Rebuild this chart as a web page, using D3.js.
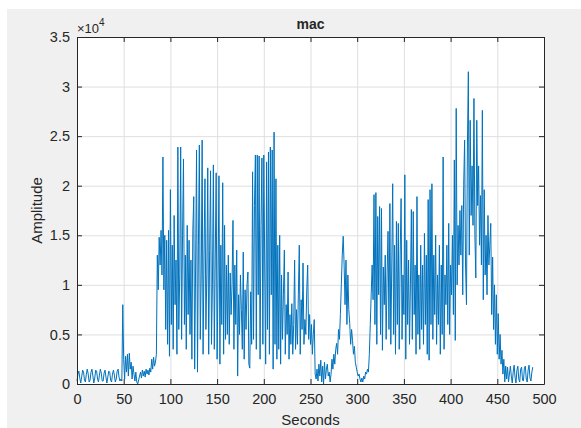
<!DOCTYPE html>
<html lang="en">
<head>
<meta charset="utf-8">
<title>mac</title>
<script src="https://d3js.org/d3.v7.min.js"></script>
<style>
  body { margin: 0; background: #fff; }
  text { font-family: "Liberation Sans", Arial, sans-serif; fill: #262626; }
</style>
</head>
<body>
<script>
// amplitude samples (units of 1e4), one per second starting at t = 0
var sampleStep = 1;
var amplitude = [
  0.03,0.10,0.13,0.06,0.01,0.07,0.14,0.12,0.04,0.02,
  0.10,0.15,0.10,0.02,0.04,0.12,0.15,0.08,0.01,0.06,
  0.14,0.13,0.05,0.02,0.09,0.15,0.11,0.03,0.03,0.11,
  0.14,0.07,0.01,0.07,0.13,0.12,0.04,0.02,0.10,0.14,
  0.09,0.02,0.05,0.13,0.15,0.07,0.03,0.05,0.03,0.80,
  0.25,0.05,0.28,0.12,0.30,0.08,0.31,0.15,0.22,0.05,
  0.18,0.10,0.03,0.12,0.02,0.00,0.04,0.08,0.12,0.06,
  0.14,0.08,0.13,0.07,0.15,0.10,0.14,0.09,0.16,0.12,
  0.25,0.15,0.27,0.18,0.22,0.30,1.30,0.95,1.48,1.20,
  1.55,1.10,2.29,0.95,1.50,0.55,1.45,0.40,1.55,0.28,
  1.96,0.60,1.40,0.35,1.70,0.80,1.25,0.30,2.39,0.55,
  1.10,2.39,0.45,1.50,2.27,0.60,1.30,0.35,1.60,0.70,
  1.45,0.50,1.25,0.25,1.55,1.89,0.15,1.20,2.36,0.12,
  1.40,2.41,0.45,1.10,2.46,0.30,1.30,2.07,0.55,1.10,
  2.18,0.30,1.35,2.15,0.40,1.00,2.21,0.35,1.25,2.13,
  0.25,1.05,2.10,0.20,1.40,0.60,2.03,0.30,1.60,0.45,
  1.20,0.50,1.30,0.40,1.12,0.70,1.00,1.65,0.35,1.20,
  0.60,1.35,0.08,0.90,0.50,1.10,0.75,0.35,1.33,0.25,
  0.95,0.55,1.00,1.13,0.20,0.16,0.93,0.40,2.14,0.45,
  1.80,2.31,0.35,2.31,0.90,2.30,0.25,1.60,2.28,0.40,
  2.31,1.20,0.20,2.24,0.55,2.34,0.30,2.39,0.90,2.36,
  0.15,2.54,0.40,2.07,0.25,1.40,0.35,1.50,0.20,1.10,
  0.45,0.90,1.35,0.30,0.80,0.50,1.13,0.25,0.70,0.40,
  0.81,0.30,0.60,1.25,0.35,0.75,0.40,0.90,1.40,0.30,
  0.85,0.55,1.22,0.40,0.65,0.50,0.95,1.20,0.45,0.70,
  0.40,0.60,0.30,0.50,0.65,0.10,0.05,0.15,0.03,0.20,
  0.08,0.24,0.02,0.18,0.00,0.22,0.05,0.15,0.20,0.08,
  0.12,0.02,0.10,0.25,0.15,0.30,0.20,0.35,0.41,0.30,
  0.55,0.45,0.70,1.00,1.30,1.49,1.20,0.80,1.25,0.60,
  1.10,0.75,0.61,0.40,0.55,0.44,0.30,0.38,0.22,0.17,
  0.12,0.08,0.10,0.05,0.02,0.06,0.02,0.08,0.05,0.12,
  0.10,0.15,0.12,0.30,0.60,0.91,1.20,0.85,1.91,0.60,
  1.93,0.40,1.69,0.90,1.79,0.50,1.77,0.34,1.18,0.80,
  1.30,0.45,1.10,1.54,0.55,1.82,0.40,1.20,2.02,0.50,
  1.40,0.30,1.64,0.60,1.62,0.35,1.30,1.87,0.45,1.10,
  0.70,2.11,0.25,1.45,0.60,1.25,0.40,1.00,1.76,0.45,
  1.74,0.70,1.20,0.30,1.89,0.50,1.10,0.35,1.40,0.55,
  1.20,0.40,1.52,0.60,1.30,0.30,1.86,0.24,1.96,0.60,
  2.02,0.45,1.30,0.70,1.50,0.40,1.10,0.60,1.40,0.30,
  1.20,0.50,2.29,0.35,1.10,0.80,1.40,0.60,1.62,0.50,
  1.20,0.90,1.50,0.70,2.26,0.44,2.78,1.00,1.60,1.20,
  1.75,1.30,1.80,0.90,2.00,2.46,1.20,0.80,2.40,3.15,
  1.30,2.66,1.70,2.20,1.60,2.88,1.50,1.07,2.66,1.80,
  2.20,1.40,1.90,1.20,2.76,0.85,1.96,1.10,1.50,0.90,
  1.70,1.20,1.40,1.62,0.70,1.28,0.55,1.00,0.40,0.90,
  0.30,0.71,0.25,0.50,0.20,0.34,0.10,0.25,0.02,0.18,
  0.05,0.17,0.02,0.10,0.18,0.08,0.01,0.12,0.19,0.07,
  0.01,0.14,0.18,0.05,0.02,0.15,0.17,0.04,0.03,0.16,
  0.18,0.05,0.02,0.14,0.19,0.06,0.03,0.12,0.17
];

var xTicks = [0, 50, 100, 150, 200, 250, 300, 350, 400, 450, 500];
var yTicks = [0, 0.5, 1, 1.5, 2, 2.5, 3, 3.5];
var titleText = "mac";
var xLabel = "Seconds";
var yLabel = "Amplitude";

var W = 581, H = 428;
var box = {left: 77, right: 544, top: 37, bottom: 384};

var svg = d3.select("body").append("svg")
    .attr("width", W)
    .attr("height", H);

// figure background
svg.append("rect")
    .attr("x", 7).attr("y", 9)
    .attr("width", W - 7).attr("height", H - 9)
    .attr("fill", "#f0f0f0");

svg.append("rect")
    .attr("x", box.left).attr("y", box.top)
    .attr("width", box.right - box.left).attr("height", box.bottom - box.top)
    .attr("fill", "#fff");

var x = d3.scaleLinear().domain([0, 500]).range([box.left, box.right]);
var y = d3.scaleLinear().domain([0, 3.5]).range([box.bottom, box.top]);

// grid
svg.append("g")
    .attr("transform", "translate(0," + box.bottom + ")")
    .call(d3.axisBottom(x).tickValues(xTicks).tickSize(-(box.bottom - box.top)).tickFormat(""))
    .call(g => g.select(".domain").remove())
    .call(g => g.selectAll("line").attr("stroke", "#dfdfdf"));
svg.append("g")
    .attr("transform", "translate(" + box.left + ",0)")
    .call(d3.axisLeft(y).tickValues(yTicks).tickSize(-(box.right - box.left)).tickFormat(""))
    .call(g => g.select(".domain").remove())
    .call(g => g.selectAll("line").attr("stroke", "#dfdfdf"));

// signal
var line = d3.line()
    .x((d, i) => x(i * sampleStep))
    .y(d => y(d));

svg.append("path")
    .datum(amplitude)
    .attr("fill", "none")
    .attr("stroke", "#0072bd")
    .attr("stroke-width", 1)
    .attr("stroke-linejoin", "round")
    .attr("d", line);

// axes with inward ticks
function styleAxis(g) {
    g.select(".domain").attr("stroke", "#262626");
    g.selectAll(".tick line").attr("stroke", "#262626");
    g.selectAll(".tick text")
        .style("font-family", "'Liberation Sans', Arial, sans-serif")
        .style("font-size", "14.5px")
        .attr("fill", "#262626");
}

svg.append("g")
    .attr("transform", "translate(0," + box.bottom + ")")
    .call(d3.axisBottom(x).tickValues(xTicks).tickSize(-5).tickSizeOuter(0).tickPadding(10).tickFormat(d3.format("~g")))
    .call(styleAxis);
svg.append("g")
    .attr("transform", "translate(0," + box.top + ")")
    .call(d3.axisTop(x).tickValues(xTicks).tickSize(-5).tickSizeOuter(0).tickFormat(""))
    .call(styleAxis);
svg.append("g")
    .attr("transform", "translate(" + box.left + ",0)")
    .call(d3.axisLeft(y).tickValues(yTicks).tickSize(-5).tickSizeOuter(0).tickPadding(7).tickFormat(d3.format("~g")))
    .call(styleAxis);
svg.append("g")
    .attr("transform", "translate(" + box.right + ",0)")
    .call(d3.axisRight(y).tickValues(yTicks).tickSize(-5).tickSizeOuter(0).tickFormat(""))
    .call(styleAxis);

// exponent marker
var expo = svg.append("text")
    .attr("x", box.left)
    .attr("y", 33)
    .style("font-size", "13px");
expo.append("tspan").text("\u00d710");
expo.append("tspan").attr("dy", -7).style("font-size", "10px").text("4");

// title and labels
svg.append("text")
    .attr("x", (box.left + box.right) / 2)
    .attr("y", 29)
    .attr("text-anchor", "middle")
    .style("font-size", "14px")
    .style("font-weight", "bold")
    .attr("fill", "#000")
    .text(titleText);

svg.append("text")
    .attr("x", (box.left + box.right) / 2)
    .attr("y", 425)
    .attr("text-anchor", "middle")
    .style("font-size", "15px")
    .text(xLabel);

svg.append("text")
    .attr("transform", "translate(42," + ((box.top + box.bottom) / 2) + ") rotate(-90)")
    .attr("text-anchor", "middle")
    .style("font-size", "15px")
    .text(yLabel);
</script>
</body>
</html>
